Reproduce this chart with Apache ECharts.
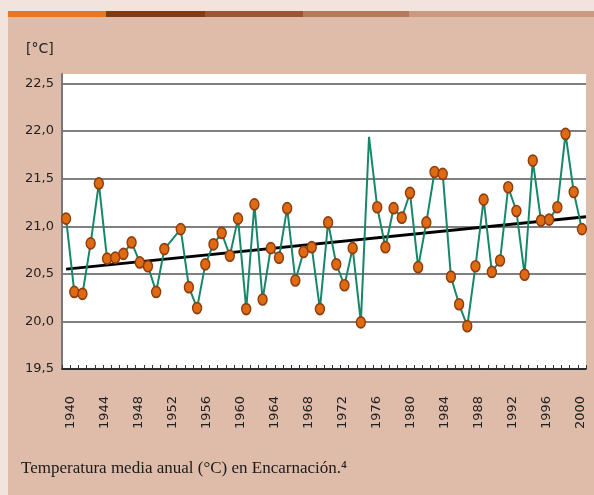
<!DOCTYPE html>
<html>
<head>
<meta charset="utf-8">
<script src="https://cdn.jsdelivr.net/npm/echarts@6/dist/echarts.min.js"></script>
<style>
    html,body{margin:0;padding:0;background:#f2e4dc;}
    #chart{width:594px;height:495px;}
</style>
</head>
<body>
<div id="chart"></div>
<script>
// temperatura media anual, una observacion por columna (null = sin marca)
var temps = [
    21.08, 20.31, 20.29, 20.82, 21.45, 20.66, 20.67, 20.71, 20.83, 20.62,
    20.58, 20.31, 20.76, null,  20.97, 20.36, 20.14, 20.60, 20.81, 20.93,
    20.69, 21.08, 20.13, 21.23, 20.23, 20.77, 20.67, 21.19, 20.43, 20.73,
    20.78, 20.13, 21.04, 20.60, 20.38, 20.77, 19.99, 21.94, 21.20, 20.78,
    21.19, 21.09, 21.35, 20.57, 21.04, 21.57, 21.55, 20.47, 20.18, 19.95,
    20.58, 21.28, 20.52, 20.64, 21.41, 21.16, 20.49, 21.69, 21.06, 21.07,
    21.20, 21.97, 21.36, 20.97
];
// puntos sin marcador
var noMarker = [37];
// recta de tendencia (posicion en columnas, valor)
var trendX = [0, 63.5];
var trendY = [20.55, 21.10];
// etiquetas
var yearTicks = [1940,1944,1948,1952,1956,1960,1964,1968,1972,1976,1980,1984,1988,1992,1996,2000];
var yTicks = [19.5, 20.0, 20.5, 21.0, 21.5, 22.0, 22.5];

function $each(arr,fn){
    for(var i=0;i<arr.length;i++){ fn(i,arr[i]); }
}

function chartTemp(id){
    var myChart=echarts.init(document.getElementById(id));
    var cats = [];
    var lineData = [];
    $each(temps,function(index,item){
        cats.push(String(index));
        if(noMarker.indexOf(index) >= 0){
            lineData.push({value:item, symbol:'none'});
        }else{
            lineData.push(item);
        }
    });
    var trendData = [];
    $each(trendX,function(index,item){
        trendData.push([item, trendY[index]]);
    });

    var option = {
        backgroundColor: '#f2e4dc',
        animation: false,
        title: {
            text: '[°C]',
            left: 21,
            top: 37,
            textStyle: {
                fontFamily: 'DejaVu Sans',
                fontSize: 14,
                fontWeight: 'normal',
                color: '#222'
            }
        },
        graphic: [
            {type:'rect', left:8, top:17, z:-10, shape:{width:586, height:478}, style:{fill:'#dfbca9'}},
            {type:'rect', left:8, top:11, z:-10, shape:{width:98, height:6}, style:{fill:'#e77724'}},
            {type:'rect', left:106, top:11, z:-10, shape:{width:99, height:6}, style:{fill:'#833912'}},
            {type:'rect', left:205, top:11, z:-10, shape:{width:98, height:6}, style:{fill:'#9c5534'}},
            {type:'rect', left:303, top:11, z:-10, shape:{width:106, height:6}, style:{fill:'#b57a5c'}},
            {type:'rect', left:409, top:11, z:-10, shape:{width:185, height:6}, style:{fill:'#c99a80'}},
            {
                type:'text', left:21, top:460,
                style:{
                    text:'Temperatura media anual (°C) en Encarnación.⁴',
                    font:'17px "Liberation Serif"',
                    fill:'#1a1a1a'
                }
            }
        ],
        grid: {
            left: 62,
            right: 8,
            top: 74,
            bottom: 126,
            show: true,
            backgroundColor: '#ffffff',
            borderWidth: 0
        },
        xAxis: [
            {
                type: 'category',
                data: cats,
                boundaryGap: true,
                axisLine: {show:true, onZero:false, lineStyle:{color:'#111', width:1.5}},
                axisTick: {show:true, inside:true, length:4, interval:0, lineStyle:{color:'#333', width:1}},
                axisLabel: {show:false},
                splitLine: {show:false}
            },
            {
                type: 'value',
                position: 'bottom',
                min: 1939.03,
                max: 2000.67,
                axisLine: {show:false},
                axisTick: {show:false},
                splitLine: {show:false},
                axisLabel: {
                    show: true,
                    customValues: yearTicks,
                    rotate: 90,
                    margin: 27,
                    fontFamily: 'DejaVu Sans',
                    fontSize: 13,
                    color: '#222',
                    formatter: function(v){
                        return String(Math.round(v));
                    }
                }
            },
            {
                type: 'value',
                min: -0.5,
                max: 63.5,
                show: false
            }
        ],
        yAxis: {
            type: 'value',
            min: 19.5,
            max: 22.6,
            interval: 0.5,
            axisLine: {show:true, onZero:false, lineStyle:{color:'#777', width:2}},
            axisTick: {show:false},
            axisLabel: {
                margin: 8,
                fontFamily: 'DejaVu Sans',
                fontSize: 13,
                color: '#222',
                formatter: function(v){
                    var hit = '';
                    $each(yTicks,function(index,item){
                        if(Math.abs(item - v) < 1e-6){
                            hit = item.toFixed(1).replace('.', ',');
                        }
                    });
                    return hit;
                }
            },
            splitLine: {
                show: true,
                showMaxLine: false,
                lineStyle: {color:'#555', width:1.5}
            }
        },
        series: [
            {
                name: 'tendencia',
                type: 'line',
                xAxisIndex: 2,
                symbol: 'none',
                lineStyle: {color:'#000', width:2.8},
                data: trendData,
                z: 3
            },
            {
                name: 'temperatura',
                type: 'line',
                xAxisIndex: 0,
                connectNulls: true,
                showSymbol: true,
                showAllSymbol: true,
                symbol: 'circle',
                symbolSize: [9, 11],
                lineStyle: {color:'#17876a', width:2},
                itemStyle: {color:'#de6a12', borderColor:'#8e3c0e', borderWidth:1.5},
                data: lineData,
                z: 4
            }
        ]
    };

    myChart.setOption(option);

    return myChart;
}

chartTemp('chart');
</script>
</body>
</html>
